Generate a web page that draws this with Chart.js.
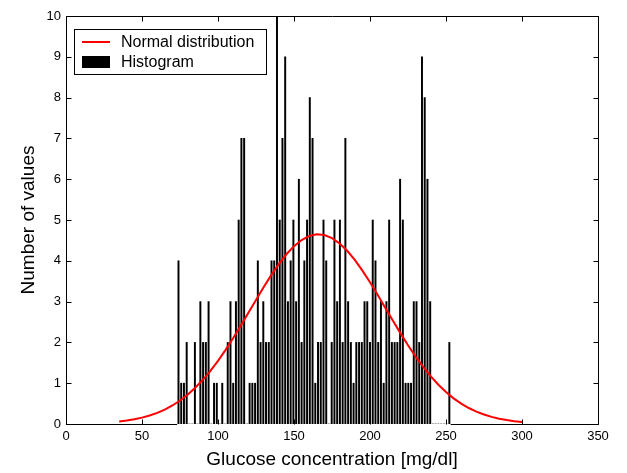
<!DOCTYPE html>
<html><head><meta charset="utf-8">
<script src="https://cdn.jsdelivr.net/npm/chart.js@4.4.1/dist/chart.umd.min.js"></script>
<style>html,body{margin:0;padding:0;background:#fff;}canvas{display:block;}</style>
</head><body>
<canvas id="c" width="627" height="473" style="width:627px;height:473px"></canvas>
<script>
// ---- data ----
const binCenters = [74.0, 75.8, 77.6, 79.4, 81.2, 83.0, 84.8, 86.6, 88.4, 90.2,
  92.0, 93.8, 95.6, 97.4, 99.2, 101.0, 102.8, 104.6, 106.4, 108.2,
  110.0, 111.8, 113.6, 115.4, 117.2, 119.0, 120.8, 122.6, 124.4, 126.2,
  128.0, 129.8, 131.6, 133.4, 135.2, 137.0, 138.8, 140.6, 142.4, 144.2,
  146.0, 147.8, 149.6, 151.4, 153.2, 155.0, 156.8, 158.6, 160.4, 162.2,
  164.0, 165.8, 167.6, 169.4, 171.2, 173.0, 174.8, 176.6, 178.4, 180.2,
  182.0, 183.8, 185.6, 187.4, 189.2, 191.0, 192.8, 194.6, 196.4, 198.2,
  200.0, 201.8, 203.6, 205.4, 207.2, 209.0, 210.8, 212.6, 214.4, 216.2,
  218.0, 219.8, 221.6, 223.4, 225.2, 227.0, 228.8, 230.6, 232.4, 234.2,
  236.0, 237.8, 239.6, 241.4, 243.2, 245.0, 246.8, 248.6, 250.4, 252.2];
const binCounts = [4, 1, 1, 2, 0, 0, 2, 0, 3, 2,
  2, 3, 0, 1, 1, 0, 1, 0, 2, 3,
  1, 3, 5, 7, 7, 0, 1, 1, 1, 4,
  2, 3, 2, 2, 4, 4, 10, 5, 7, 9,
  3, 4, 5, 3, 6, 2, 4, 5, 8, 7,
  1, 2, 2, 5, 4, 0, 2, 5, 3, 5,
  2, 7, 3, 2, 1, 2, 2, 2, 3, 3,
  2, 5, 4, 2, 3, 1, 3, 5, 2, 2,
  2, 6, 5, 1, 1, 1, 3, 3, 2, 9,
  8, 6, 3, 0, 0, 0, 0, 0, 0, 2];
const curveX = [35, 40, 45, 50, 55, 60, 65, 70, 75, 80, 85, 90, 95, 100, 105, 110, 115, 120,
  125, 130, 135, 140, 145, 150, 155, 160, 165, 170, 175, 180, 185, 190, 195, 200, 205, 210,
  215, 220, 225, 230, 235, 240, 245, 250, 255, 260, 265, 270, 275, 280, 285, 290, 295, 300];
const curveY = [0.061, 0.084, 0.115, 0.156, 0.207, 0.273, 0.354, 0.454, 0.575, 0.718, 0.887,
  1.082, 1.302, 1.548, 1.817, 2.106, 2.411, 2.725, 3.042, 3.352, 3.648, 3.920, 4.160, 4.359,
  4.510, 4.608, 4.649, 4.631, 4.556, 4.425, 4.245, 4.021, 3.760, 3.473, 3.167, 2.852, 2.536,
  2.227, 1.931, 1.653, 1.398, 1.167, 0.962, 0.783, 0.629, 0.500, 0.392, 0.303, 0.232, 0.175,
  0.130, 0.096, 0.070, 0.050];
const xTickValues = [0, 50, 100, 150, 200, 250, 300, 350];
const yTickValues = [0, 1, 2, 3, 4, 5, 6, 7, 8, 9, 10];
const seriesNames = ['Normal distribution', 'Histogram'];
const xTitle = 'Glucose concentration [mg/dl]';
const yTitle = 'Number of values';

// ---- styling / drawing ----
const FONT = '"Liberation Sans", Arial, Helvetica, sans-serif';
Chart.defaults.font.family = FONT;
Chart.defaults.color = '#000';

const boxPlugin = {
  id: 'matlabBox',
  beforeDatasetsDraw(chart) {
    const {ctx, chartArea: a, scales: {x, y}} = chart;
    const L = Math.round(a.left) + 0.5, R = Math.round(a.right) + 0.5;
    const T = Math.round(a.top) + 0.5, B = Math.round(a.bottom) + 0.5;
    const half = (binCenters[1] - binCenters[0]) / 2;
    const g0 = x.getPixelForValue(binCenters[0] - half);
    const g1 = x.getPixelForValue(binCenters[binCenters.length - 1] + half);
    ctx.save();
    ctx.strokeStyle = '#000';
    ctx.lineWidth = 1;
    ctx.beginPath();
    ctx.moveTo(L, B); ctx.lineTo(L, T); ctx.lineTo(R, T); ctx.lineTo(R, B);
    ctx.moveTo(R, B); ctx.lineTo(g1, B);
    ctx.moveTo(g0, B); ctx.lineTo(L - 0.5, B);
    xTickValues.forEach(v => {
      const p = Math.round(x.getPixelForValue(v)) + 0.5;
      ctx.moveTo(p, B); ctx.lineTo(p, B - 5);
      ctx.moveTo(p, T); ctx.lineTo(p, T + 5);
    });
    yTickValues.forEach(v => {
      const p = Math.round(y.getPixelForValue(v)) + 0.5;
      ctx.moveTo(L, p); ctx.lineTo(L + 5, p);
      ctx.moveTo(R, p); ctx.lineTo(R - 5, p);
    });
    ctx.stroke();
    ctx.restore();
  }
};

const legendPlugin = {
  id: 'boxLegend',
  afterDatasetsDraw(chart) {
    const {ctx, chartArea: a} = chart;
    const ds = chart.data.datasets;
    const x0 = Math.round(a.left) + 8.5, y0 = Math.round(a.top) + 13.5, w = 192, h = 45;
    ctx.save();
    ctx.fillStyle = '#fff';
    ctx.fillRect(x0, y0, w, h);
    ctx.strokeStyle = '#000';
    ctx.lineWidth = 1;
    ctx.strokeRect(x0, y0, w, h);
    ctx.strokeStyle = ds[0].borderColor;
    ctx.lineWidth = 2;
    ctx.beginPath();
    ctx.moveTo(x0 + 7.5, y0 + 12.5);
    ctx.lineTo(x0 + 35.5, y0 + 12.5);
    ctx.stroke();
    ctx.fillStyle = ds[1].backgroundColor;
    ctx.fillRect(x0 + 7.5, y0 + 26.5, 28, 12);
    ctx.fillStyle = '#000';
    ctx.font = '16px ' + FONT;
    ctx.textBaseline = 'middle';
    ctx.fillText(ds[0].label, x0 + 46.5, y0 + 13);
    ctx.fillText(ds[1].label, x0 + 46.5, y0 + 33);
    ctx.restore();
  }
};

new Chart(document.getElementById('c'), {
  type: 'bar',
  data: {
    datasets: [
      {
        type: 'line',
        label: seriesNames[0],
        data: curveX.map((v, i) => ({x: v, y: curveY[i]})),
        borderColor: '#ff0000',
        backgroundColor: '#ff0000',
        borderWidth: 2,
        pointRadius: 0,
        tension: 0,
        fill: false
      },
      {
        type: 'bar',
        label: seriesNames[1],
        data: binCenters.map((v, i) => ({x: v, y: binCounts[i]})),
        backgroundColor: '#000000',
        borderWidth: 0,
        barThickness: 1.3
      }
    ]
  },
  options: {
    responsive: false,
    animation: false,
    devicePixelRatio: 1,
    events: [],
    layout: {padding: {left: 0, right: 29, top: 16, bottom: 0}},
    plugins: {legend: {display: false}, tooltip: {enabled: false}},
    scales: {
      x: {
        type: 'linear', min: 0, max: 350, offset: false,
        afterBuildTicks: s => { s.ticks = xTickValues.map(v => ({value: v})); },
        afterFit: s => { s.height = 49; },
        grid: {display: false, drawTicks: false},
        border: {display: false},
        ticks: {padding: 5, font: {size: 13}, maxRotation: 0, autoSkip: false, color: '#000'},
        title: {display: true, text: xTitle, font: {size: 19}, color: '#000', padding: {top: 0, bottom: 2}}
      },
      y: {
        type: 'linear', min: 0, max: 10,
        afterBuildTicks: s => { s.ticks = yTickValues.map(v => ({value: v})); },
        afterFit: s => { s.width = 66; },
        grid: {display: false, drawTicks: false},
        border: {display: false},
        ticks: {padding: 5, font: {size: 13}, autoSkip: false, color: '#000'},
        title: {display: true, text: yTitle, font: {size: 19}, color: '#000', padding: {top: 17, bottom: 0}}
      }
    }
  },
  plugins: [boxPlugin, legendPlugin]
});
</script>
</body></html>
